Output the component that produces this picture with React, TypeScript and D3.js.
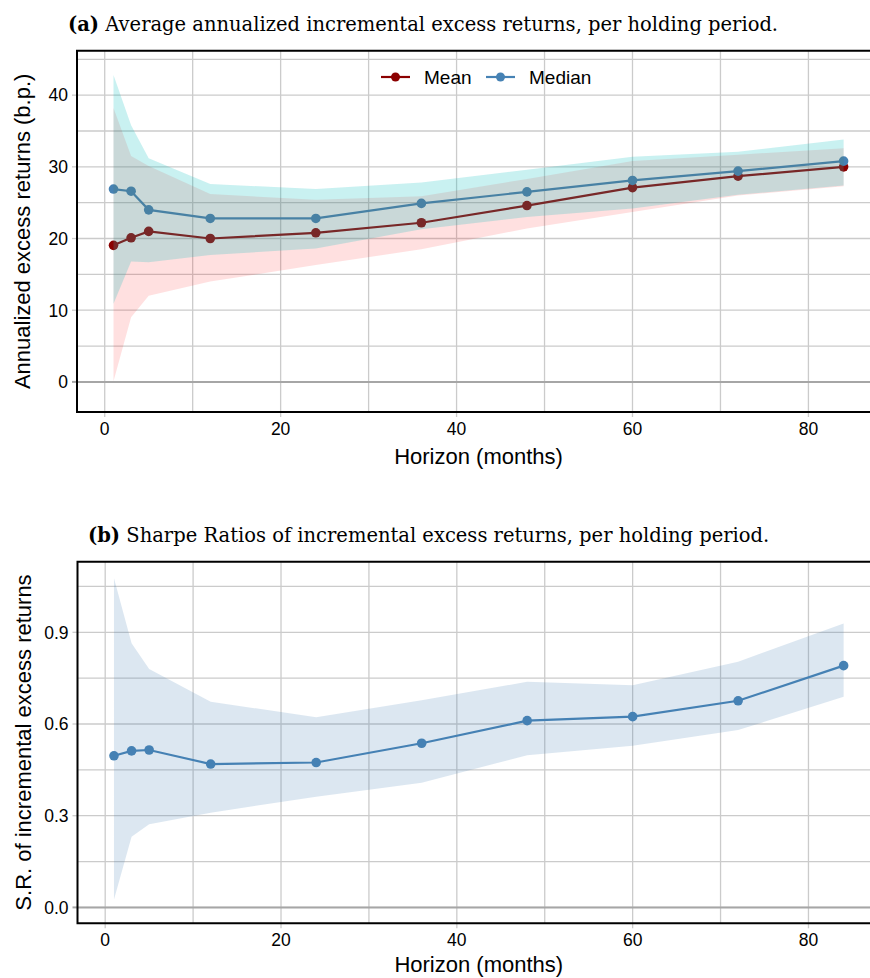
import React, { useEffect, useRef } from 'react'
import * as d3 from 'd3'

// holding periods (months)
const horizons = [1, 3, 5, 12, 24, 36, 48, 60, 72, 84]

// panel (a): annualized incremental excess returns, b.p.
const meanReturns = [19.05, 20.1, 21.0, 20.0, 20.8, 22.2, 24.6, 27.1, 28.7, 30.0]
const meanLower = [0.1, 9.0, 12.0, 14.0, 16.3, 18.5, 21.4, 23.7, 26.0, 27.3]
const meanUpper = [38.2, 31.5, 30.1, 26.2, 25.4, 25.9, 28.3, 30.8, 31.7, 32.6]
const medianReturns = [26.9, 26.6, 24.0, 22.8, 22.8, 24.9, 26.5, 28.1, 29.4, 30.8]
const medianLower = [10.9, 16.8, 16.7, 17.7, 18.6, 21.3, 23.0, 24.2, 26.1, 27.4]
const medianUpper = [42.8, 35.8, 31.2, 27.6, 26.9, 27.8, 29.6, 31.4, 32.1, 33.8]

// panel (b): sharpe ratios
const sharpe = [0.496, 0.512, 0.515, 0.469, 0.474, 0.537, 0.611, 0.624, 0.676, 0.791]
const sharpeLower = [0.026, 0.231, 0.272, 0.31, 0.362, 0.408, 0.498, 0.529, 0.58, 0.689]
const sharpeUpper = [1.077, 0.864, 0.78, 0.673, 0.622, 0.678, 0.738, 0.727, 0.804, 0.929]

const xTicks = [0, 20, 40, 60, 80]
const returnTicks = [0, 10, 20, 30, 40]
const sharpeTicks = [0, 0.3, 0.6, 0.9]

const SANS = '"Liberation Sans", Arial, sans-serif'
const SERIF = '"DejaVu Serif", "Liberation Serif", serif'
const GRID = '#cbcbcb'

function drawPanel(svg, opts) {
  const { top, bottom, left, right, yDomain, yTicks, yMinor, yFormat, yTitle, title, titleX, xTitleGap } = opts
  const x = d3.scaleLinear().domain([-3.15, 87]).range([left, right])
  const y = d3.scaleLinear().domain(yDomain).range([bottom, top])
  const g = svg.append('g')

  // grid
  d3.range(0, 90, 10).forEach(v => {
    g.append('line')
      .attr('x1', x(v)).attr('x2', x(v))
      .attr('y1', top).attr('y2', bottom)
      .attr('stroke', GRID).attr('stroke-width', 1.3)
  })
  yMinor.concat(yTicks).forEach(v => {
    g.append('line')
      .attr('x1', left).attr('x2', right)
      .attr('y1', y(v)).attr('y2', y(v))
      .attr('stroke', GRID).attr('stroke-width', 1.3)
  })
  // tick marks (grey, outside)
  yTicks.forEach(v => {
    g.append('line')
      .attr('x1', left - 5).attr('x2', left)
      .attr('y1', y(v)).attr('y2', y(v))
      .attr('stroke', v === 0 ? '#a6a6a6' : GRID).attr('stroke-width', v === 0 ? 2 : 1.3)
    g.append('text')
      .attr('x', left - 9).attr('y', y(v))
      .attr('dy', '0.36em')
      .attr('text-anchor', 'end')
      .attr('font-family', SANS).attr('font-size', 17.5)
      .text(yFormat(v))
  })
  xTicks.forEach(v => {
    g.append('line')
      .attr('x1', x(v)).attr('x2', x(v))
      .attr('y1', bottom).attr('y2', bottom + 5)
      .attr('stroke', GRID).attr('stroke-width', 1.3)
    g.append('text')
      .attr('x', x(v)).attr('y', bottom + 23)
      .attr('text-anchor', 'middle')
      .attr('font-family', SANS).attr('font-size', 17.5)
      .text(v)
  })
  // zero line
  g.append('line')
    .attr('x1', left).attr('x2', right)
    .attr('y1', y(0)).attr('y2', y(0))
    .attr('stroke', '#a6a6a6').attr('stroke-width', 2)

  g.append('text')
    .attr('transform', `translate(${left - 47}, ${(top + bottom) / 2}) rotate(-90)`)
    .attr('text-anchor', 'middle')
    .attr('font-family', SANS).attr('font-size', 22)
    .text(yTitle)
  g.append('text')
    .attr('x', (left + right) / 2 + 5).attr('y', bottom + xTitleGap)
    .attr('text-anchor', 'middle')
    .attr('font-family', SANS).attr('font-size', 22)
    .text('Horizon (months)')

  const t = svg.append('text')
    .attr('x', titleX).attr('y', top - 20)
    .attr('font-family', SERIF).attr('font-size', 19.5)
  t.append('tspan').attr('font-weight', 'bold').text(title[0])
  t.append('tspan').text(' ' + title[1])

  return { x, y, g }
}

function drawSeries(g, x, y, vals, color) {
  const pts = horizons.map((h, i) => [h, vals[i]])
  const line = d3.line().x(d => x(d[0])).y(d => y(d[1]))
  g.append('path')
    .attr('d', line(pts))
    .attr('fill', 'none')
    .attr('stroke', color).attr('stroke-width', 2.2)
  g.selectAll(null)
    .data(pts)
    .enter()
    .append('circle')
    .attr('cx', d => x(d[0])).attr('cy', d => y(d[1]))
    .attr('r', 4.8)
    .attr('fill', color)
}

function drawBand(g, x, y, lo, hi, fill) {
  const area = d3
    .area()
    .x(d => x(d))
    .y0((d, i) => y(lo[i]))
    .y1((d, i) => y(hi[i]))
  g.append('path').attr('d', area(horizons)).attr('fill', fill)
}

function drawFrame(g, left, right, top, bottom) {
  g.append('path')
    .attr('d', `M${right + 5},${top}H${left}V${bottom}H${right + 5}`)
    .attr('fill', 'none')
    .attr('stroke', '#000').attr('stroke-width', 2)
}

export default function App() {
  const ref = useRef(null)

  useEffect(() => {
    const svg = d3.select(ref.current)
    svg.selectAll('*').remove()

    // (a)
    const a = drawPanel(svg, {
      top: 50.7, bottom: 412, left: 77, right: 870,
      yDomain: [-4.2, 46.2], yTicks: returnTicks, yMinor: [5, 15, 25, 35, 45],
      yFormat: d => d, yTitle: 'Annualized excess returns (b.p.)',
      title: ['(a)', 'Average annualized incremental excess returns, per holding period.'],
      titleX: 68, xTitleGap: 52,
    })
    drawSeries(a.g, a.x, a.y, meanReturns, '#8b0000')
    drawSeries(a.g, a.x, a.y, medianReturns, '#4682b4')
    drawBand(a.g, a.x, a.y, meanLower, meanUpper, 'rgba(255,0,0,0.12)')
    drawBand(a.g, a.x, a.y, medianLower, medianUpper, 'rgba(0,191,191,0.21)')
    drawFrame(a.g, 77, 870, 50.7, 412)

    // legend
    const legend = svg.append('g').attr('font-family', SANS).attr('font-size', 19)
    const items = [['Mean', '#8b0000', 381], ['Median', '#4682b4', 486]]
    items.forEach(([name, color, lx]) => {
      legend.append('line')
        .attr('x1', lx).attr('x2', lx + 29).attr('y1', 77).attr('y2', 77)
        .attr('stroke', color).attr('stroke-width', 2.2)
      legend.append('circle').attr('cx', lx + 14.5).attr('cy', 77).attr('r', 4.5).attr('fill', color)
      legend.append('text').attr('x', lx + 43).attr('y', 77).attr('dy', '0.36em').text(name)
    })

    // (b)
    const b = drawPanel(svg, {
      top: 561.7, bottom: 923.3, left: 77.5, right: 870,
      yDomain: [-0.052, 1.131], yTicks: sharpeTicks, yMinor: [0.15, 0.45, 0.75, 1.05],
      yFormat: d3.format('.1f'), yTitle: 'S.R. of incremental excess returns',
      title: ['(b)', 'Sharpe Ratios of incremental excess returns, per holding period.'],
      titleX: 88, xTitleGap: 49,
    })
    drawSeries(b.g, b.x, b.y, sharpe, '#4682b4')
    drawBand(b.g, b.x, b.y, sharpeLower, sharpeUpper, 'rgba(70,130,180,0.19)')
    drawFrame(b.g, 77.5, 870, 561.7, 923.3)
  }, [])

  return (
    <svg
      ref={ref}
      width={870}
      height={978}
      style={{ position: 'absolute', left: 0, top: 0, background: '#fff' }}
    />
  )
}
